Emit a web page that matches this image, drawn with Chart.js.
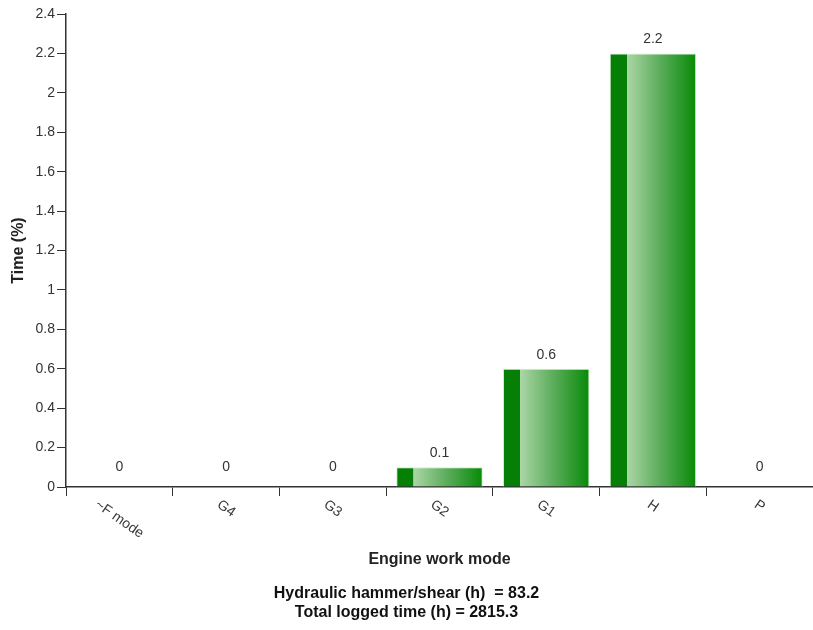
<!DOCTYPE html>
<html>
<head>
<meta charset="utf-8">
<script src="https://cdn.jsdelivr.net/npm/chart.js@4/dist/chart.umd.min.js"></script>
<style>
  html, body { margin: 0; padding: 0; background: #fff; }
  #wrap { width: 813px; height: 630px; position: relative; }
</style>
</head>
<body>
<div id="wrap"><canvas id="c" width="813" height="630"></canvas></div>
<script>
const categories = ['~F mode', 'G4', 'G3', 'G2', 'G1', 'H', 'P'];
const timePercent = [0, 0, 0, 0.1, 0.6, 2.2, 0];
const yTicks = [0, 0.2, 0.4, 0.6, 0.8, 1, 1.2, 1.4, 1.6, 1.8, 2, 2.2, 2.4];
const xAxisTitle = 'Engine work mode';
const yAxisTitle = 'Time (%)';
const footerLines = ['Hydraulic hammer/shear (h)  = 83.2', 'Total logged time (h) = 2815.3'];

const FONT = 'Arial, "Liberation Sans", sans-serif';
const DARK = '#078007';
const BAR_PCT = 0.81;

function barGradient(ctx) {
  const chart = ctx.chart;
  const xs = chart.scales && chart.scales.x;
  if (ctx.type !== 'data' || !xs || !chart.chartArea) return DARK;
  const cx = xs.getPixelForValue(ctx.dataIndex);
  const w = (xs.width / categories.length) * BAR_PCT;
  const l = cx - w / 2, r = cx + w / 2;
  const g = chart.ctx.createLinearGradient(l, 0, r, 0);
  g.addColorStop(0, '#067f06');
  g.addColorStop(0.195, '#067f06');
  g.addColorStop(0.2, '#abd6a5');
  g.addColorStop(0.55, '#62b062');
  g.addColorStop(1, '#078a07');
  return g;
}

const valueLabels = {
  id: 'valueLabels',
  afterDatasetsDraw(chart) {
    const c = chart.ctx;
    const meta = chart.getDatasetMeta(0);
    const ys = chart.scales.y;
    c.save();
    c.font = '14px ' + FONT;
    c.fillStyle = '#333';
    c.textAlign = 'center';
    c.textBaseline = 'middle';
    meta.data.forEach((bar, i) => {
      const v = timePercent[i];
      const base = ys.getPixelForValue(0);
      const y = v === 0 ? base - 20 : bar.y - 14;
      c.fillText(String(v), bar.x, y);
    });
    c.restore();
  }
};

const rotatedXLabels = {
  id: 'rotatedXLabels',
  afterDraw(chart) {
    const xs = chart.scales.x;
    const c = chart.ctx;
    const th = 35 * Math.PI / 180;
    c.save();
    c.font = '14px ' + FONT;
    c.fillStyle = '#3a3a3a';
    c.textAlign = 'center';
    c.textBaseline = 'middle';
    categories.forEach((lab, i) => {
      const cx = xs.getPixelForValue(i);
      const w = c.measureText(lab).width;
      const h = 14;
      const cy = xs.top + 10.5 + (w * Math.sin(th) + h * Math.cos(th)) / 2;
      c.save();
      c.translate(cx, cy);
      c.rotate(th);
      c.fillText(lab, 0, 0);
      c.restore();
    });
    c.restore();
  }
};

new Chart(document.getElementById('c'), {
  type: 'bar',
  data: {
    labels: categories,
    datasets: [{
      data: timePercent,
      backgroundColor: barGradient,
      borderColor: '#d3ebcf',
      borderWidth: (ctx) => (ctx.raw ? 1 : 0),
      barPercentage: BAR_PCT,
      categoryPercentage: 1.0
    }]
  },
  options: {
    responsive: false,
    animation: false,
    devicePixelRatio: 1,
    layout: { padding: { top: 14, right: 0, bottom: 0, left: 0 } },
    plugins: {
      legend: { display: false },
      tooltip: { enabled: false },
      title: {
        display: true,
        position: 'bottom',
        text: footerLines,
        color: '#111',
        font: { family: FONT, size: 16, weight: 'bold', lineHeight: 1.2 },
        padding: { top: 0, bottom: 8 }
      }
    },
    scales: {
      x: {
        type: 'category',
        offset: true,
        grid: {
          display: true,
          offset: true,
          drawOnChartArea: false,
          drawTicks: true,
          tickLength: 9,
          tickColor: '#333',
          tickWidth: 1
        },
        border: { display: true, color: '#333', width: 1.5 },
        ticks: { display: false },
        title: {
          display: true,
          text: xAxisTitle,
          color: '#222',
          font: { family: FONT, size: 16, weight: 'bold', lineHeight: 1.2 },
          padding: { top: 0, bottom: 14 }
        },
        afterFit(scale) { scale.height = 96.6; }
      },
      y: {
        min: 0,
        max: 2.4,
        afterBuildTicks(scale) { scale.ticks = yTicks.map(v => ({ value: v })); },
        grid: {
          display: true,
          drawOnChartArea: false,
          drawTicks: true,
          tickLength: 9,
          tickColor: '#333',
          tickWidth: 1
        },
        border: { display: true, color: '#333', width: 1.5 },
        ticks: {
          color: '#333',
          padding: 2,
          font: { family: FONT, size: 14 },
          callback: (v) => String(Math.round(v * 10) / 10)
        },
        title: {
          display: true,
          text: yAxisTitle,
          color: '#222',
          font: { family: FONT, size: 16, weight: 'bold', lineHeight: 1.2 },
          padding: { top: 8.5, bottom: 0 }
        },
        afterFit(scale) { scale.width = 66; }
      }
    }
  },
  plugins: [valueLabels, rotatedXLabels]
});
</script>
</body>
</html>
